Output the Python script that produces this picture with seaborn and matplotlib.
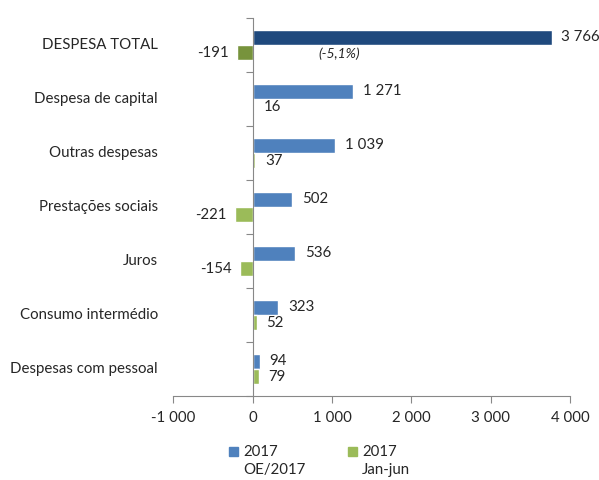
import numpy as np
import pandas as pd
import seaborn as sns
import matplotlib.pyplot as plt
from matplotlib.patches import Rectangle

categories = ["DESPESA TOTAL", "Despesa de capital", "Outras despesas",
              "Prestações sociais", "Juros", "Consumo intermédio",
              "Despesas com pessoal"]
oe_2017 = [3766, 1271, 1039, 502, 536, 323, 94]
jan_jun = [-191, 16, 37, -221, -154, 52, 79]
series = ["2017\nOE/2017", "2017\nJan-jun"]
xticks = [-1000, 0, 1000, 2000, 3000, 4000]

sns.set_style("white")
plt.rcParams['font.family'] = ['Lato', 'DejaVu Sans']

df = pd.DataFrame({
    "cat": categories * 2,
    "val": oe_2017 + jan_jun,
    "serie": [series[0]] * len(categories) + [series[1]] * len(categories),
})

blue, green = "#4F81BD", "#9BBB59"
dblue, dgreen = "#1F497D", "#77933C"
fs = 10.8

fig = plt.figure(figsize=(5.99, 4.8), dpi=100)
ax = fig.add_axes([0.289, 0.175, 0.663, 0.7875])
sns.barplot(data=df, y="cat", x="val", hue="serie", orient="h",
            palette=[blue, green], width=0.57, ax=ax, legend=False,
            saturation=1)

# darker colours for the total
for cont, col in zip(ax.containers, [dblue, dgreen]):
    cont.patches[0].set_facecolor(col)

# value labels
def fmt(v):
    return f"{v:,}".replace(",", " ")

for cont, vals in zip(ax.containers, [oe_2017, jan_jun]):
    for p, v in zip(cont.patches, vals):
        yc = p.get_y() + p.get_height() / 2
        if v >= 0:
            ax.annotate(fmt(v), (v, yc), xytext=(7, 0), textcoords="offset points",
                        ha="left", va="center", fontsize=fs)
        else:
            ax.annotate(fmt(v), (v, yc), xytext=(-6, 0), textcoords="offset points",
                        ha="right", va="center", fontsize=fs)

top_green = ax.containers[1].patches[0]
ax.text(1095, top_green.get_y() + top_green.get_height() * 0.6, "(-5,1%)",
        style="italic", fontsize=10, ha="center", va="center")

ax.set_xlim(-1000, 4000)
ax.set_ylim(len(categories) - 0.5, -0.5)
ax.set_xticks(xticks)
ax.set_xticklabels([fmt(t) for t in xticks], fontsize=fs)
ax.set_xlabel("")
ax.set_ylabel("")

# y axis at zero, ticks between categories
ax.set_yticks(np.arange(-0.5, len(categories), 1.0))
ax.set_yticklabels([])
ax.spines['left'].set_position(('data', 0))
for s in ["top", "right"]:
    ax.spines[s].set_visible(False)
for s in ["left", "bottom"]:
    ax.spines[s].set_color("#888888")
ax.tick_params(axis="x", direction="out", length=5, color="#888888", pad=6)
ax.tick_params(axis="y", direction="out", length=5, color="#888888")
ax.tick_params(left=True, bottom=True)

# category labels at the far left
for i, c in enumerate(categories):
    ax.text(-0.038, i, c, transform=ax.get_yaxis_transform(), ha="right",
            va="center", fontsize=fs)

# legend: square beside first line, second line below
for x0, col, lab in [(229, blue, series[0]), (348, green, series[1])]:
    fig.patches.append(Rectangle((x0 / 599, 1 - 456 / 480), 9 / 599, 9 / 480,
                                 transform=fig.transFigure, color=col))
    l1, l2 = lab.split("\n")
    fig.text((x0 + 14) / 599, 1 - 452 / 480, l1, ha="left", va="center", fontsize=fs)
    fig.text((x0 + 14) / 599, 1 - 470 / 480, l2, ha="left", va="center", fontsize=fs)

fig.savefig("out.png", dpi=100)
